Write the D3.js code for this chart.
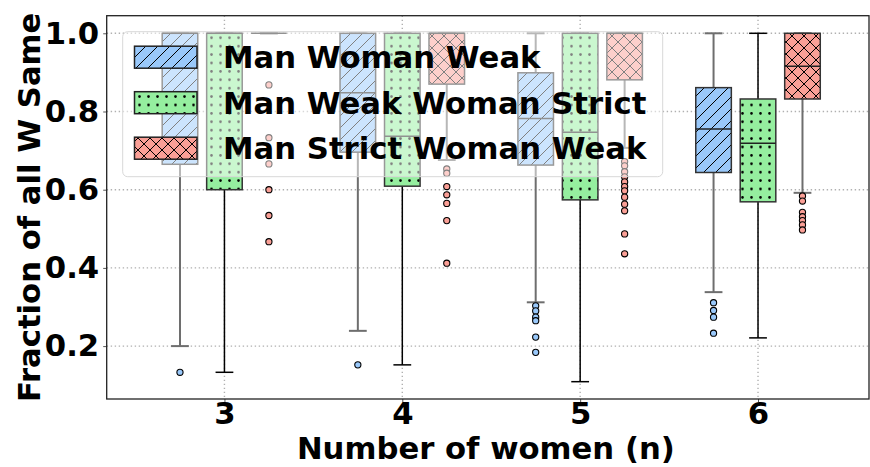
<!DOCTYPE html>
<html>
<head>
<meta charset="utf-8">
<script src="https://cdn.jsdelivr.net/npm/d3@7"></script>
<style>
  body { margin: 0; background: #fff; }
  text { font-family: 'DejaVu Sans', sans-serif; font-weight: bold; }
</style>
</head>
<body>
<div id="chart"></div>
<script>
const WIDTH = 870;
const HEIGHT = 467;
const LEFT = 106.7;
const RIGHT = 869;
const TOP = 15.7;
const BOTTOM = 399;
const FONT = 30.7;

// data
const groups = [3, 4, 5, 6];
const seriesNames = ['Man Woman Weak', 'Man Weak Woman Strict', 'Man Strict Woman Weak'];
const yTicks = [0.2, 0.4, 0.6, 0.8, 1.0];

const blueQ1 = [0.665, 0.696, 0.663, 0.644];
const blueMed = [1.0, 0.848, 0.782, 0.755];
const blueQ3 = [1.0, 1.0, 0.899, 0.861];
const blueLo = [0.200, 0.239, 0.312, 0.338];
const blueHi = [1.0, 1.0, 1.0, 1.0];
const blueOut = [
  [0.133],
  [0.152],
  [0.303, 0.290, 0.274, 0.265, 0.223, 0.184],
  [0.311, 0.291, 0.274, 0.233]
];

const greenQ1 = [0.600, 0.609, 0.574, 0.569];
const greenMed = [1.0, 0.737, 0.747, 0.719];
const greenQ3 = [1.0, 1.0, 1.0, 0.832];
const greenLo = [0.133, 0.152, 0.109, 0.221];
const greenHi = [1.0, 1.0, 1.0, 1.0];
const greenOut = [[], [], [], []];

const redQ1 = [1.0, 0.870, 0.881, 0.832];
const redMed = [1.0, 1.0, 1.0, 0.916];
const redQ3 = [1.0, 1.0, 1.0, 1.0];
const redLo = [1.0, 0.676, 0.707, 0.592];
const redHi = [1.0, 1.0, 1.0, 1.0];
const redOut = [
  [0.868, 0.733, 0.666, 0.600, 0.534, 0.467],
  [0.653, 0.642, 0.608, 0.587, 0.565, 0.521, 0.412],
  [0.672, 0.661, 0.646, 0.633, 0.620, 0.608, 0.597, 0.581, 0.563, 0.546, 0.487, 0.436],
  [0.584, 0.571, 0.542, 0.531, 0.521, 0.510, 0.497]
];

const styles = [
  {fill: '#99c8fa', hatch: 'hatchSlash', whisker: '#6e6e6e', ww: 2},
  {fill: '#95ee9f', hatch: 'hatchDots', whisker: '#000', ww: 1.5},
  {fill: '#fa9f96', hatch: 'hatchCross', whisker: '#6e6e6e', ww: 2}
];

const series = [
  {q1: blueQ1, med: blueMed, q3: blueQ3, lo: blueLo, hi: blueHi, out: blueOut},
  {q1: greenQ1, med: greenMed, q3: greenQ3, lo: greenLo, hi: greenHi, out: greenOut},
  {q1: redQ1, med: redMed, q3: redQ3, lo: redLo, hi: redHi, out: redOut}
];
const offsets = [-0.25, 0, 0.25];
const BOX_W = 0.2;

let svg = d3.select('#chart').append('svg')
  .attr('width', WIDTH)
  .attr('height', HEIGHT);

let xScale = d3.scaleLinear().domain([2.338, 6.624]).range([LEFT, RIGHT]);
let yScale = d3.scaleLinear().domain([0.0647, 1.045]).range([BOTTOM, TOP]);

function addPatterns() {
  let defs = svg.append('defs');

  let slash = defs.append('pattern')
    .attr('id', 'hatchSlash')
    .attr('patternUnits', 'userSpaceOnUse')
    .attr('width', 12).attr('height', 12);
  slash.append('path')
    .attr('d', 'M0,12L12,0M-3,3L3,-3M9,15L15,9')
    .attr('stroke', '#000').attr('stroke-width', 1);

  let dots = defs.append('pattern')
    .attr('id', 'hatchDots')
    .attr('patternUnits', 'userSpaceOnUse')
    .attr('width', 9).attr('height', 8.4);
  dots.append('circle')
    .attr('cx', 4.5).attr('cy', 4.2).attr('r', 1.3)
    .attr('fill', '#000');

  let cross = defs.append('pattern')
    .attr('id', 'hatchCross')
    .attr('patternUnits', 'userSpaceOnUse')
    .attr('width', 12).attr('height', 12);
  cross.append('path')
    .attr('d', 'M0,12L12,0M-3,3L3,-3M9,15L15,9M0,0L12,12M-3,9L3,15M9,-3L15,3')
    .attr('stroke', '#000').attr('stroke-width', 1);
}

function buildGrid() {
  let grid = svg.append('g').attr('class', 'grid');
  grid.selectAll('.hgrid')
    .data(yTicks)
    .enter()
    .append('line')
    .attr('x1', LEFT).attr('x2', RIGHT)
    .attr('y1', (d) => yScale(d)).attr('y2', (d) => yScale(d));
  grid.selectAll('.vgrid')
    .data(groups)
    .enter()
    .append('line')
    .attr('x1', (d) => xScale(d)).attr('x2', (d) => xScale(d))
    .attr('y1', TOP).attr('y2', BOTTOM);
  grid.selectAll('line')
    .attr('stroke', '#b0b0b0')
    .attr('stroke-width', 1.4)
    .attr('stroke-dasharray', '1.4,2.6');
}

function buildBoxes() {
  series.forEach((s, si) => {
    let st = styles[si];
    let g = svg.append('g').attr('class', 'series' + si);
    groups.forEach((n, gi) => {
      let cx = xScale(n + offsets[si]);
      let half = (xScale(BOX_W) - xScale(0)) / 2;

      // whiskers
      g.append('line')
        .attr('x1', cx).attr('x2', cx)
        .attr('y1', yScale(s.lo[gi])).attr('y2', yScale(s.q1[gi]))
        .attr('stroke', st.whisker).attr('stroke-width', st.ww);
      g.append('line')
        .attr('x1', cx).attr('x2', cx)
        .attr('y1', yScale(s.q3[gi])).attr('y2', yScale(s.hi[gi]))
        .attr('stroke', st.whisker).attr('stroke-width', st.ww);
      [s.lo[gi], s.hi[gi]].forEach((v) => {
        g.append('line')
          .attr('x1', cx - half / 2).attr('x2', cx + half / 2)
          .attr('y1', yScale(v)).attr('y2', yScale(v))
          .attr('stroke', st.whisker).attr('stroke-width', st.ww);
      });

      // box
      let y0 = yScale(s.q3[gi]);
      let h = yScale(s.q1[gi]) - y0;
      g.append('rect')
        .attr('x', cx - half).attr('y', y0)
        .attr('width', half * 2).attr('height', h)
        .attr('fill', st.fill);
      g.append('rect')
        .attr('x', cx - half).attr('y', y0)
        .attr('width', half * 2).attr('height', h)
        .attr('fill', `url(#${st.hatch})`)
        .attr('stroke', '#333').attr('stroke-width', 1.5);
      g.append('line')
        .attr('x1', cx - half).attr('x2', cx + half)
        .attr('y1', yScale(s.med[gi])).attr('y2', yScale(s.med[gi]))
        .attr('stroke', '#222').attr('stroke-width', 1.5);

      // fliers
      g.selectAll('.flier' + gi)
        .data(s.out[gi])
        .enter()
        .append('circle')
        .attr('cx', cx)
        .attr('cy', (d) => yScale(d))
        .attr('r', 3.1)
        .attr('fill', st.fill)
        .attr('stroke', '#000')
        .attr('stroke-width', 1.1);
    });
  });
}

function buildAxis() {
  let yAxis = d3.axisLeft(yScale)
    .tickValues(yTicks)
    .tickFormat(d3.format('.1f'))
    .tickSize(3.5)
    .tickPadding(4);
  let xAxis = d3.axisBottom(xScale)
    .tickValues(groups)
    .tickFormat(d3.format('d'))
    .tickSize(3.5)
    .tickPadding(2);

  let ya = svg.append('g')
    .attr('transform', `translate(${LEFT},0)`)
    .call(yAxis);
  let xa = svg.append('g')
    .attr('transform', `translate(0,${BOTTOM})`)
    .call(xAxis);

  [ya, xa].forEach((a) => {
    a.select('.domain').remove();
    a.selectAll('.tick line').attr('stroke', '#555').attr('stroke-width', 1);
    a.selectAll('text')
      .style('font-size', FONT + 'px')
      .style('font-weight', 'bold')
      .style('font-family', 'DejaVu Sans')
      .attr('fill', '#000');
  });
  xa.selectAll('text').attr('dy', '0.62em');

  svg.append('rect')
    .attr('x', LEFT).attr('y', TOP)
    .attr('width', RIGHT - LEFT).attr('height', BOTTOM - TOP)
    .attr('fill', 'none')
    .attr('stroke', '#222')
    .attr('stroke-width', 1.3);

  svg.append('text')
    .attr('x', (LEFT + RIGHT) / 2 - 2)
    .attr('y', 459)
    .attr('text-anchor', 'middle')
    .style('font-size', FONT + 'px')
    .text('Number of women (n)');

  svg.append('text')
    .attr('transform', `translate(40,${(TOP + BOTTOM) / 2})rotate(-90)`)
    .attr('text-anchor', 'middle')
    .style('font-size', FONT + 'px')
    .text('Fraction of all W Same');
}

function buildLegend() {
  let lg = svg.append('g').attr('class', 'legend');
  lg.append('rect')
    .attr('x', 122.7).attr('y', 31.7)
    .attr('width', 540).attr('height', 145)
    .attr('rx', 5)
    .attr('fill', '#fff').attr('fill-opacity', 0.5)
    .attr('stroke', '#d8d8d8').attr('stroke-width', 1);

  seriesNames.forEach((name, i) => {
    let cy = 57.2 + i * 45.5;
    let st = styles[i];
    lg.append('rect')
      .attr('x', 134.5).attr('y', cy - 11)
      .attr('width', 62.5).attr('height', 22)
      .attr('fill', st.fill);
    lg.append('rect')
      .attr('x', 134.5).attr('y', cy - 11)
      .attr('width', 62.5).attr('height', 22)
      .attr('fill', `url(#${st.hatch})`)
      .attr('stroke', '#222').attr('stroke-width', 1.5);
    lg.append('text')
      .attr('x', 223)
      .attr('y', cy + 11)
      .style('font-size', FONT + 'px')
      .text(name);
  });
}

addPatterns();
buildGrid();
buildBoxes();
buildAxis();
buildLegend();
</script>
</body>
</html>
